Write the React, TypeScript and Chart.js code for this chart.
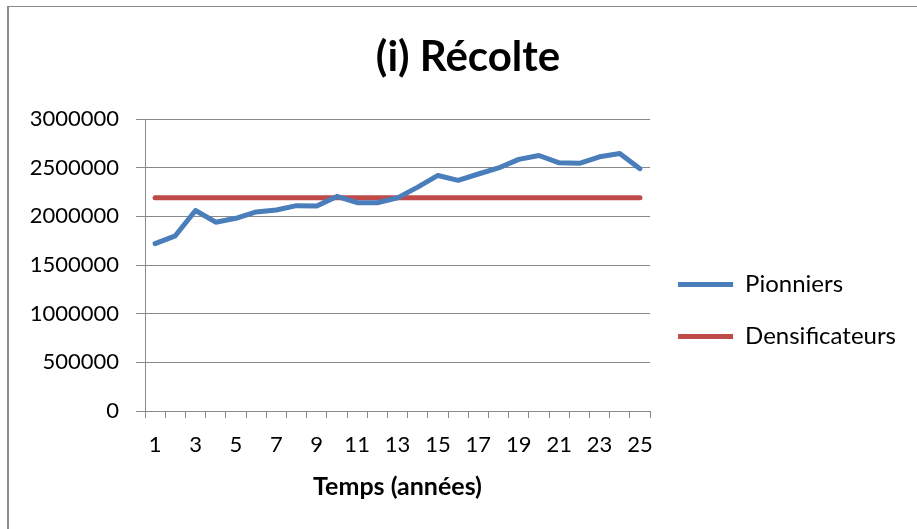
import { useEffect, useRef } from 'react';
import { Chart, registerables } from 'chart.js';

Chart.register(...registerables);

const categories = ['1','2','3','4','5','6','7','8','9','10','11','12','13','14','15','16','17','18','19','20','21','22','23','24','25'];
const pionniers = [1720000, 1800000, 2060000, 1940000, 1980000, 2045000, 2065000, 2110000, 2105000, 2205000, 2140000, 2140000, 2190000, 2300000, 2420000, 2370000, 2435000, 2497000, 2585000, 2625000, 2550000, 2545000, 2612000, 2645000, 2490000];
const densificateurs = [2190000, 2190000, 2190000, 2190000, 2190000, 2190000, 2190000, 2190000, 2190000, 2190000, 2190000, 2190000, 2190000, 2190000, 2190000, 2190000, 2190000, 2190000, 2190000, 2190000, 2190000, 2190000, 2190000, 2190000, 2190000];
const seriesNames = ['Pionniers', 'Densificateurs'];
const titleText = '(i) Récolte';
const xTitle = 'Temps (années)';
const yMin = 0;
const yMax = 3000000;
const yStep = 500000;

export default function App() {
  const ref = useRef<HTMLCanvasElement>(null);
  useEffect(() => {
    const axisColor = '#898989';
    const font = 'Lato';
    const chart = new Chart(ref.current!, {
      type: 'line',
      data: {
        labels: categories,
        datasets: [
          {
            label: seriesNames[0],
            data: pionniers,
            borderColor: '#4a7ebb',
            backgroundColor: '#4a7ebb',
            borderWidth: 5,
            pointRadius: 0,
            borderCapStyle: 'round',
            borderJoinStyle: 'round',
            tension: 0,
          },
          {
            label: seriesNames[1],
            data: densificateurs,
            borderColor: '#be4b48',
            backgroundColor: '#be4b48',
            borderWidth: 5,
            pointRadius: 0,
            borderCapStyle: 'round',
            borderJoinStyle: 'round',
            tension: 0,
          },
        ],
      },
      options: {
        responsive: false,
        animation: false,
        devicePixelRatio: 1,
        layout: { padding: { left: 30, right: 11, top: 0, bottom: 0 } },
        plugins: {
          tooltip: { enabled: false },
          title: {
            display: true,
            text: titleText,
            color: '#000',
            font: { family: font, size: 42, weight: 'bold' },
            padding: { top: 31.8, bottom: 36.8 },
          },
          legend: {
            position: 'right',
            align: 'center',
            maxWidth: 400,
            title: { display: true, text: ' ', font: { family: font, size: 10 }, padding: { top: 80, bottom: 0 } },
            labels: {
              usePointStyle: true,
              pointStyle: 'line',
              pointStyleWidth: 55,
              padding: 28,
              color: '#000',
              font: { family: font, size: 24 },
            },
          },
        },
        scales: {
          x: {
            type: 'category',
            offset: true,
            afterFit: (scale: any) => { scale.height = 118; },
            grid: {
              display: true,
              offset: true,
              drawOnChartArea: false,
              drawTicks: true,
              tickLength: 7,
              color: axisColor,
              lineWidth: 1,
            },
            border: { display: true, color: axisColor, width: 1 },
            ticks: {
              autoSkip: false,
              maxRotation: 0,
              padding: 14,
              color: '#000',
              font: { family: font, size: 22 },
              callback: (_v: any, i: number) => (i % 2 === 0 ? categories[i] : ''),
            },
            title: {
              display: true,
              text: xTitle,
              color: '#000',
              font: { family: font, size: 25, weight: 'bold' },
              padding: { top: 0, bottom: 27 },
            },
          },
          y: {
            min: yMin,
            max: yMax,
            afterFit: (scale: any) => { scale.width = 115; },
            grid: {
              color: axisColor,
              lineWidth: 1,
              tickLength: 9,
              drawTicks: true,
            },
            border: { display: true, color: axisColor, width: 1 },
            ticks: {
              stepSize: yStep,
              padding: 17,
              color: '#000',
              font: { family: font, size: 22 },
              callback: (v: any) => String(v),
            },
          },
        },
      },
    });
    return () => chart.destroy();
  }, []);
  return (
    <div style={{ position: 'fixed', left: 0, top: 0, width: 917, height: 529, overflow: 'hidden', background: '#fff' }}>
      <div style={{ position: 'absolute', left: 7, top: 6, right: -10, bottom: -10, borderLeft: '2px solid #8a8a8a', borderTop: '1px solid #8a8a8a' }} />
      <canvas ref={ref} width={917} height={529} style={{ position: 'absolute', left: 0, top: 0 }} />
    </div>
  );
}
